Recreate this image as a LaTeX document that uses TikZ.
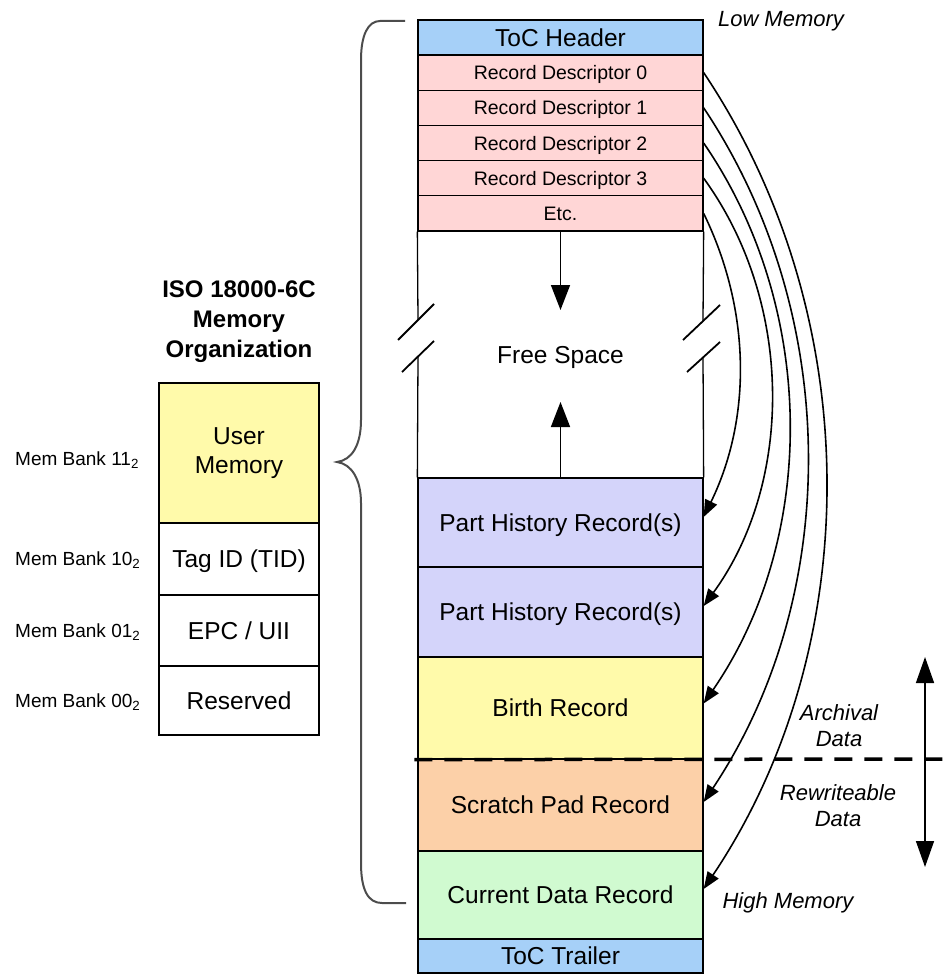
\documentclass[tikz,border=0pt]{standalone}
\usepackage{fontspec}
\setmainfont{Liberation Sans}
\usetikzlibrary{arrows.meta}
\definecolor{tocblue}{RGB}{166,208,248}
\definecolor{rdpink}{RGB}{255,214,214}
\definecolor{phlav}{RGB}{212,212,250}
\definecolor{byellow}{RGB}{255,250,170}
\definecolor{sporange}{RGB}{252,208,168}
\definecolor{cdgreen}{RGB}{208,250,208}
\begin{document}
\begin{tikzpicture}[x=1pt,y=1pt,
  cellbox/.style={draw=black, line width=1.3pt, rectangle, inner sep=0pt, minimum width=285pt, text depth=0pt},
  lcellbox/.style={draw=black, line width=1.3pt, rectangle, inner sep=0pt, minimum width=160pt, font=\fontsize{24.5}{29.5}\selectfont},
  bigtext/.style={font=\fontsize{24.5}{29.5}\selectfont, text height=17.5pt, text depth=0pt},
  smalltext/.style={font=\fontsize{19.5}{23}\selectfont, text height=14pt, text depth=0pt},
  sidelabel/.style={font=\fontsize{22}{26}\selectfont\itshape, align=center},
  banklabel/.style={font=\fontsize{19}{23}\selectfont, anchor=base west, inner sep=0pt},
  wallline/.style={line width=1.3pt},
  slashline/.style={line width=1.8pt},
  braceline/.style={line width=2pt, draw=black!70},
  ptrarrow/.style={line width=1.6pt, -{Triangle[length=17pt,width=13pt]}, looseness=0.92},
  growarrow/.style={line width=1.6pt, -{Triangle[length=25pt,width=19pt]}},
  spanarrow/.style={line width=1.5pt, {Triangle[length=26pt,width=18pt]}-{Triangle[length=26pt,width=18pt]}},
]
\useasboundingbox (0,0) rectangle (946,-974);

% ---- main column ----
\node[cellbox, bigtext, fill=tocblue, minimum height=35pt] (hdr) at (560.5,-37.5) {ToC Header};
\node[cellbox, smalltext, fill=rdpink, minimum height=35.2pt] (rd0) at (560.5,-72.6) {Record Descriptor 0};
\node[cellbox, smalltext, fill=rdpink, minimum height=35.2pt] (rd1) at (560.5,-107.8) {Record Descriptor 1};
\node[cellbox, smalltext, fill=rdpink, minimum height=35.2pt] (rd2) at (560.5,-143) {Record Descriptor 2};
\node[cellbox, smalltext, fill=rdpink, minimum height=35.2pt] (rd3) at (560.5,-178.2) {Record Descriptor 3};
\node[cellbox, smalltext, fill=rdpink, minimum height=35.2pt] (etc) at (560.5,-213.4) {Etc.};
\node[cellbox, bigtext, fill=phlav, minimum height=89pt] (ph1) at (560.5,-522.5) {Part History Record(s)};
\node[cellbox, bigtext, fill=phlav, minimum height=90pt] (ph2) at (560.5,-612) {Part History Record(s)};
\node[cellbox, bigtext, fill=byellow, minimum height=102pt] (birth) at (560.5,-708) {Birth Record};
\node[cellbox, bigtext, fill=sporange, minimum height=92pt] (scratch) at (560.5,-805) {Scratch Pad Record};
\node[cellbox, bigtext, fill=cdgreen, minimum height=88pt] (cur) at (560.5,-895) {Current Data Record};
\node[cellbox, bigtext, fill=tocblue, minimum height=34pt] (trl) at (560.5,-956) {ToC Trailer};

% free space walls with break marks
\draw[wallline] (etc.south west) -- (418,-320);
\draw[wallline] (418,-357) -- (ph1.north west);
\draw[wallline] (etc.south east) -- (703,-321);
\draw[wallline] (703,-357.5) -- (ph1.north east);
\draw[slashline] (398,-340) -- (434,-304);
\draw[slashline] (402,-372) -- (434,-341);
\draw[slashline] (683,-340) -- (720,-305);
\draw[slashline] (687,-372) -- (720,-342);
\node[bigtext, inner sep=0pt] (free) at (560.5,-355) {Free Space};
\coordinate (downtip) at (560.5,-310);
\coordinate (uptip) at (560.5,-402);
\draw[growarrow] (etc.south) -- (downtip);
\draw[growarrow] (ph1.north) -- (uptip);

% descriptor pointers
\draw[ptrarrow] (etc.east) to[bend left=26] ([yshift=5.5pt]ph1.east);
\draw[ptrarrow] (rd3.east) to[bend left=36] ([yshift=6pt]ph2.east);
\draw[ptrarrow] (rd2.east) to[bend left=34.5] ([yshift=4.5pt]birth.east);
\draw[ptrarrow] (rd1.east) to[bend left=33.7] ([yshift=3pt]scratch.east);
\draw[ptrarrow] (rd0.east) to[bend left=33.8] ([yshift=6pt]cur.east);

% archival / rewriteable split
\coordinate (dashR) at (946,-759);
\draw[line width=3.5pt, dash pattern=on 18pt off 12pt] ([xshift=-3pt]birth.south west) -- (dashR);
\coordinate (spanTop) at (925,-657);
\coordinate (spanBot) at (925,-867);
\draw[spanarrow] (spanTop) -- (spanBot);

\node[sidelabel, anchor=base] (low) at (781,-27) {Low Memory};
\node[sidelabel, anchor=base] (high) at (788,-908) {High Memory};
\node[sidelabel] (arch) at (839,-726) {Archival\\Data};
\node[sidelabel] (rewr) at (838,-806) {Rewriteable\\Data};

% brace
\draw[braceline] (405,-21) -- (380,-21) .. controls (368,-21) and (361,-35) .. (361,-60)
  -- (361,-420) .. controls (361,-445) and (352,-460) .. (337,-462)
  .. controls (352,-464) and (361,-480) .. (361,-503)
  -- (361,-863) .. controls (361,-890) and (368,-903) .. (382,-903) -- (406,-903);

% ---- ISO 18000-6C memory ----
\node[font=\fontsize{24}{30}\selectfont\bfseries, align=center] (title) at (239,-321.8) {ISO 18000-6C\\Memory\\Organization};
\node[lcellbox, fill=byellow, minimum height=140pt, align=center] (um) at (239,-453) {User\\Memory};
\node[lcellbox, fill=white, minimum height=72pt, text height=17.5pt, text depth=0pt] (tid) at (239,-559) {Tag ID (TID)};
\node[lcellbox, fill=white, minimum height=71pt, text height=17.5pt, text depth=0pt] (epc) at (239,-630.5) {EPC / UII};
\node[lcellbox, fill=white, minimum height=69pt, text height=17.5pt, text depth=0pt] (res) at (239,-700.5) {Reserved};

\node[banklabel] (b11) at (15,-465) {Mem Bank 11\textsubscript{2}};
\node[banklabel] (b10) at (15,-565) {Mem Bank 10\textsubscript{2}};
\node[banklabel] (b01) at (15,-637) {Mem Bank 01\textsubscript{2}};
\node[banklabel] (b00) at (15,-707) {Mem Bank 00\textsubscript{2}};
\end{tikzpicture}
\end{document}
